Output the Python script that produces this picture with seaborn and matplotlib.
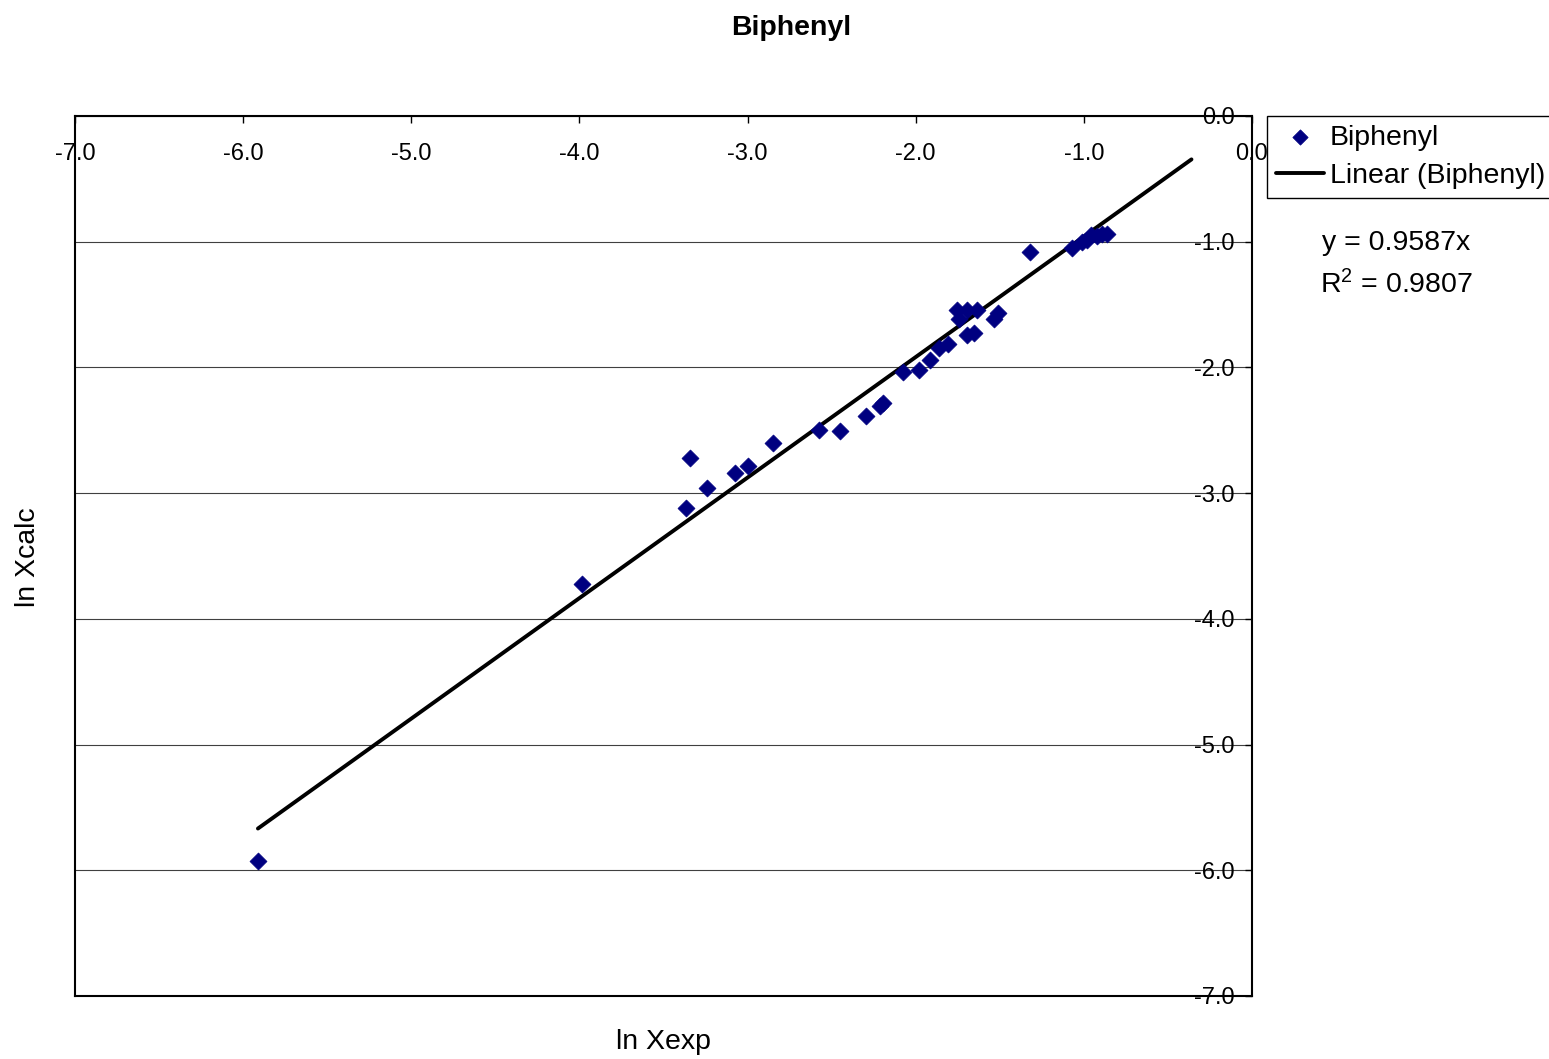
import matplotlib
matplotlib.use("Agg")
import matplotlib.pyplot as plt
import numpy as np
import pandas as pd
import seaborn as sns

# data
ln_xexp = [-5.912, -3.985, -3.366, -3.342, -3.241, -3.075, -2.997, -2.849,
           -2.575, -2.450, -2.296, -2.212, -2.195, -2.076, -1.980, -1.915,
           -1.861, -1.808, -1.754, -1.743, -1.695, -1.635, -1.695, -1.653,
           -1.534, -1.511, -1.320, -1.070, -1.011, -0.981, -0.957, -0.922,
           -0.892, -0.862]
ln_xcalc = [-5.926, -3.723, -3.118, -2.721, -2.959, -2.840, -2.784, -2.601,
            -2.498, -2.506, -2.386, -2.307, -2.283, -2.036, -2.021, -1.941,
            -1.846, -1.814, -1.543, -1.615, -1.543, -1.543, -1.742, -1.726,
            -1.615, -1.567, -1.082, -1.050, -1.002, -0.986, -0.947, -0.955,
            -0.939, -0.939]
trend_slope = 0.9587
trend_r2 = 0.9807
trend_x_end = -0.36
ticks = [-7.0, -6.0, -5.0, -4.0, -3.0, -2.0, -1.0, 0.0]

sns.set_style("white")
plt.rcParams['font.family'] = ['Liberation Sans', 'DejaVu Sans']
plt.rcParams['axes.unicode_minus'] = False
plt.rcParams['text.color'] = 'black'
plt.rcParams['axes.labelcolor'] = 'black'
plt.rcParams['xtick.color'] = 'black'
plt.rcParams['ytick.color'] = 'black'

df = pd.DataFrame({'x': ln_xexp, 'y': ln_xcalc})
trend_x = np.array([min(ln_xexp), trend_x_end])
trend = pd.DataFrame({'x': trend_x, 'y': trend_slope * trend_x})

fig = plt.figure(figsize=(15.49, 10.59), dpi=100)
ax = fig.add_axes([75 / 1549, 1 - 996 / 1059, (1252 - 75) / 1549, (996 - 116) / 1059])

sns.lineplot(data=trend, x='x', y='y', ax=ax, color='black', linewidth=2.8,
             label='Linear (Biphenyl)', zorder=2)
sns.scatterplot(data=df, x='x', y='y', ax=ax, marker='D', s=75, color='#000080',
                edgecolor='#000080', linewidth=0.5, label='Biphenyl', zorder=3)

ax.set_xlim(-7, 0)
ax.set_ylim(-7, 0)
ax.set_xticks(ticks)
ax.set_yticks(ticks)
ax.set_xticklabels(['%.1f' % t for t in ticks])
ax.set_yticklabels(['%.1f' % t for t in ticks])
ax.set_xlabel('')
ax.set_ylabel('')

ax.xaxis.tick_top()
ax.yaxis.tick_right()
ax.tick_params(axis='x', direction='in', length=5, width=1, pad=-27.5,
               labelsize=17, colors='black')
ax.tick_params(axis='y', direction='in', length=5, width=1, pad=-12.5,
               labelsize=17, colors='black')
plt.setp(ax.get_xticklabels(), va='center')
plt.setp(ax.get_yticklabels(), ha='right')

ax.yaxis.grid(True, color='#404040', linewidth=0.8)
ax.xaxis.grid(False)
for sp in ax.spines.values():
    sp.set_visible(True)
    sp.set_color('black')
    sp.set_linewidth(1.5)

handles, labels = ax.get_legend_handles_labels()
order = [labels.index('Biphenyl'), labels.index('Linear (Biphenyl)')]
leg = ax.legend([handles[i] for i in order], [labels[i] for i in order],
                loc='upper left', bbox_to_anchor=(1267 / 1549, 1 - 116 / 1059),
                bbox_transform=fig.transFigure, borderaxespad=0, fontsize=20.5,
                frameon=True, fancybox=False, framealpha=1, edgecolor='black',
                handlelength=1.7, handletextpad=0.2, labelspacing=0.45,
                borderpad=0.3, markerscale=0.9)
leg.get_frame().set_linewidth(1)

fig.text(1322 / 1549, 1 - 243 / 1059, 'y = 0.9587x', fontsize=20.5, va='center', ha='left')
fig.text(1320 / 1549, 1 - 285 / 1059, '$\\mathregular{R^2}$ = %.4f' % trend_r2,
         fontsize=20.5, va='center', ha='left')

fig.text(791 / 1549, 1 - 28 / 1059, 'Biphenyl', fontsize=20.5, fontweight='bold',
         ha='center', va='center')
fig.text(664 / 1549, 1 - 1042 / 1059, 'ln Xexp', fontsize=20.5, ha='center', va='center')
fig.text(28 / 1549, 1 - 557 / 1059, 'ln Xcalc', fontsize=20.5, ha='center', va='center',
         rotation=90)

fig.savefig('out.png', dpi=100)
